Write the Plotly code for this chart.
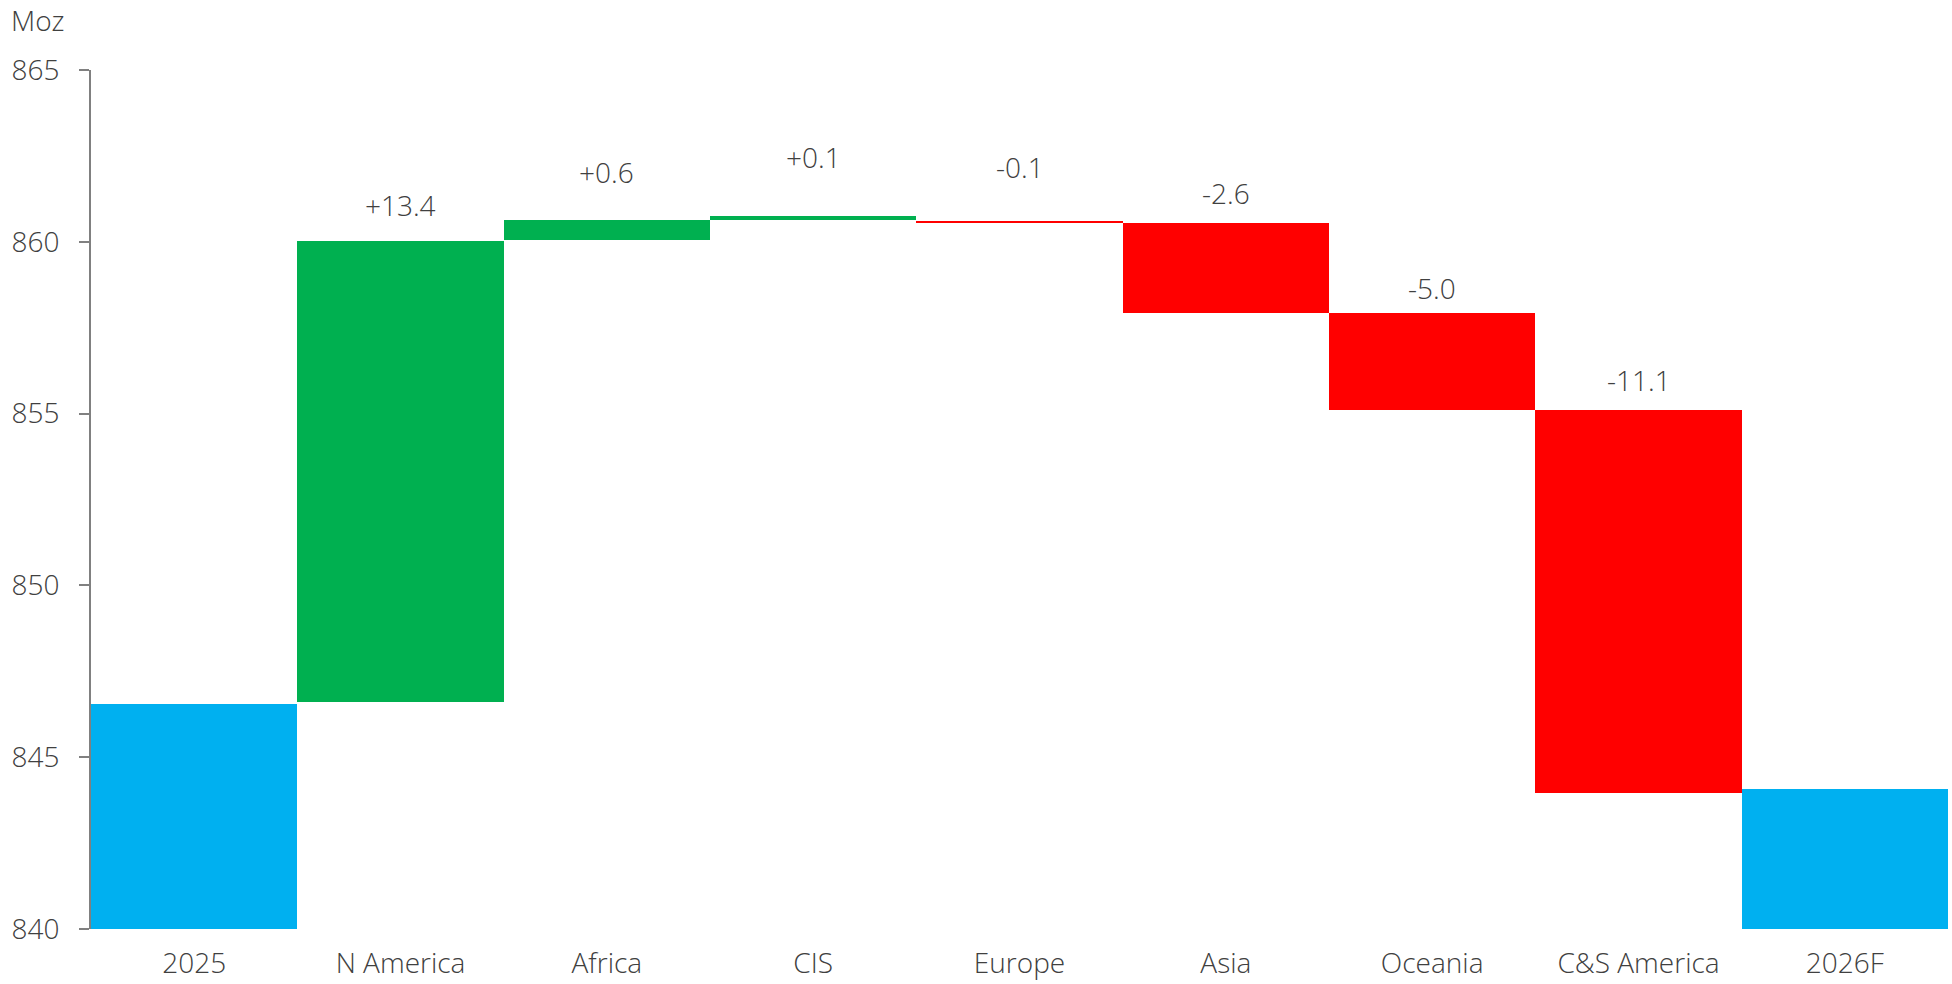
import plotly.graph_objects as go

categories = ["2025", "N America", "Africa", "CIS", "Europe", "Asia", "Oceania", "C&S America", "2026F"]
bar_bottom = [840.0, 846.6, 860.04, 860.64, 860.55, 857.92, 855.1, 843.95, 840.0]
bar_top = [846.55, 860.02, 860.63, 860.74, 860.59, 860.54, 857.92, 855.1, 844.08]
bar_kind = ["total", "up", "up", "up", "down", "down", "down", "down", "total"]
change_labels = ["", "+13.4", "+0.6", "+0.1", "-0.1", "-2.6", "-5.0", "-11.1", ""]
label_pos = [None, 861.07, 862.04, 862.48, 862.19, 861.43, 858.65, 855.98, None]
y_ticks = [840, 845, 850, 855, 860, 865]

kind_colors = {"total": "#00B0F0", "up": "#00B050", "down": "#FF0000"}
FONT = "Open Sans"
FSIZE = 28
TEXT_COLOR = "#404040"
font_main = dict(family=FONT, size=FSIZE, color=TEXT_COLOR, weight=300)

fig = go.Figure()
fig.add_trace(go.Bar(
    x=categories,
    y=[t - b for t, b in zip(bar_top, bar_bottom)],
    base=bar_bottom,
    width=1.0,
    marker=dict(color=[kind_colors[k] for k in bar_kind], line=dict(width=0)),
    hoverinfo="skip",
    showlegend=False,
))

for cat, lab, pos in zip(categories, change_labels, label_pos):
    if lab:
        fig.add_annotation(
            x=cat, y=pos, xref="x", yref="y", text=lab, showarrow=False,
            xanchor="center", yanchor="middle", font=font_main,
        )

W, H = 1952, 984
L, R, T, B = 91, 4, 70, 55
pw, ph = W - L - R, H - T - B

fig.add_annotation(
    x=(9 - L) / pw, y=(H - B - 20) / ph, xref="paper", yref="paper",
    text="Moz", showarrow=False, xanchor="left", yanchor="middle", font=font_main,
)

fig.update_layout(
    width=W, height=H,
    margin=dict(l=L, r=R, t=T, b=B, pad=0, autoexpand=False),
    plot_bgcolor="white", paper_bgcolor="white",
    bargap=0,
    font=font_main,
    xaxis=dict(
        range=[-0.5, 8.5], showline=False, ticks="", showgrid=False, zeroline=False,
        tickfont=font_main, ticklabelstandoff=15, automargin=False,
    ),
    yaxis=dict(
        range=[840, 865], tickvals=y_ticks, ticks="outside", ticklen=10,
        tickcolor="#808080", tickwidth=2, showline=True, linecolor="#808080", linewidth=2,
        showgrid=False, zeroline=False,
        tickfont=font_main, ticklabelstandoff=14, automargin=False,
    ),
)

fig.write_html(
    "out.html",
    config={"displayModeBar": False},
    post_script="document.body.style.margin='0';document.body.style.overflow='hidden';",
)
